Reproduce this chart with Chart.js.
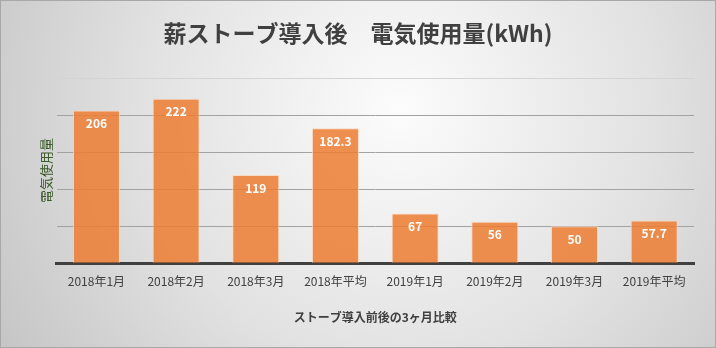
<!DOCTYPE html>
<html lang="ja">
<head>
<meta charset="utf-8">
<title>薪ストーブ導入後 電気使用量</title>
<script src="https://cdn.jsdelivr.net/npm/chart.js@4/dist/chart.umd.min.js"></script>
<style>
  html, body { margin: 0; padding: 0; background: #ffffff; }
  #wrap { width: 716px; height: 348px; }
</style>
</head>
<body>
<div id="wrap"><canvas id="chart" width="716" height="348"></canvas></div>
<script>
// Monthly electricity use before and after the wood stove (kWh)
const categories = ['2018年1月', '2018年2月', '2018年3月', '2018年平均', '2019年1月', '2019年2月', '2019年3月', '2019年平均'];
const usage = [206, 222, 119, 182.3, 67, 56, 50, 57.7];
const valueLabels = ['206', '222', '119', '182.3', '67', '56', '50', '57.7'];

const FONT = '"Noto Sans CJK JP", "Noto Sans", sans-serif';

// Soft radial backdrop with a thin frame
const backdrop = {
  id: 'backdrop',
  beforeDraw(chart) {
    const { ctx, width, height } = chart;
    ctx.save();
    const g = ctx.createRadialGradient(400, 110, 0, 400, 110, 460);
    g.addColorStop(0, '#fcfcfc');
    g.addColorStop(0.55, '#e2e2e2');
    g.addColorStop(1, '#c6c6c6');
    ctx.fillStyle = g;
    ctx.fillRect(0, 0, width, height);
    ctx.strokeStyle = '#a8a8a8';
    ctx.lineWidth = 1;
    ctx.strokeRect(0.5, 0.5, width - 1, height - 1);
    ctx.restore();
  }
};

// White value labels just inside the top of each bar
const barValues = {
  id: 'barValues',
  afterDatasetsDraw(chart) {
    const { ctx } = chart;
    const meta = chart.getDatasetMeta(0);
    ctx.save();
    ctx.fillStyle = '#ffffff';
    ctx.font = 'bold 12px ' + FONT;
    ctx.textAlign = 'center';
    ctx.textBaseline = 'middle';
    meta.data.forEach((bar, i) => {
      ctx.fillText(valueLabels[i], bar.x, bar.y + 13);
    });
    ctx.restore();
  }
};

new Chart(document.getElementById('chart'), {
  type: 'bar',
  data: {
    labels: categories,
    datasets: [{
      data: usage,
      backgroundColor: 'rgba(237,125,49,0.85)',
      borderColor: 'rgba(250,215,190,0.9)',
      borderWidth: 1,
      categoryPercentage: 1,
      barPercentage: 0.59
    }]
  },
  options: {
    responsive: false,
    animation: false,
    devicePixelRatio: 1,
    layout: { padding: { left: 11, right: 11, top: 0, bottom: 19 } },
    plugins: {
      legend: { display: false },
      tooltip: { enabled: false },
      title: {
        display: true,
        text: '薪ストーブ導入後　電気使用量(kWh)',
        color: '#404040',
        font: { family: FONT, size: 23, weight: 'bold', lineHeight: 1.2 },
        padding: { top: 19, bottom: 31.4 }
      }
    },
    scales: {
      x: {
        grid: { display: false, drawTicks: false },
        border: { display: true, color: '#404040', width: 3 },
        ticks: { color: '#404040', font: { family: FONT, size: 12 }, padding: 11, maxRotation: 0 },
        title: {
          display: true,
          text: 'ストーブ導入前後の3ヶ月比較',
          color: '#404040',
          font: { family: FONT, size: 12, weight: 'bold', lineHeight: 1.2 },
          padding: { top: 11, bottom: 4 }
        }
      },
      y: {
        min: 0,
        max: 250,
        ticks: { display: false, stepSize: 50 },
        grid: {
          drawTicks: false,
          lineWidth: 1,
          color: (c) => {
            const v = c.tick ? c.tick.value : 0;
            if (v === 0) return 'rgba(0,0,0,0)';
            if (v === 250) return '#d4d4d4';
            return '#a2a2a2';
          }
        },
        border: { display: false },
        title: {
          display: true,
          text: '電気使用量',
          color: '#3a5a28',
          font: { family: FONT, size: 13, weight: 'normal', lineHeight: 1.2 },
          padding: { top: 27, bottom: 3 }
        }
      },
      // empty right-hand gutter
      yRight: {
        position: 'right',
        min: 0,
        max: 250,
        ticks: { display: false },
        grid: { display: false, drawTicks: false },
        border: { display: false },
        afterFit: (scale) => { scale.width = 11; }
      }
    }
  },
  plugins: [backdrop, barValues]
});
</script>
</body>
</html>
